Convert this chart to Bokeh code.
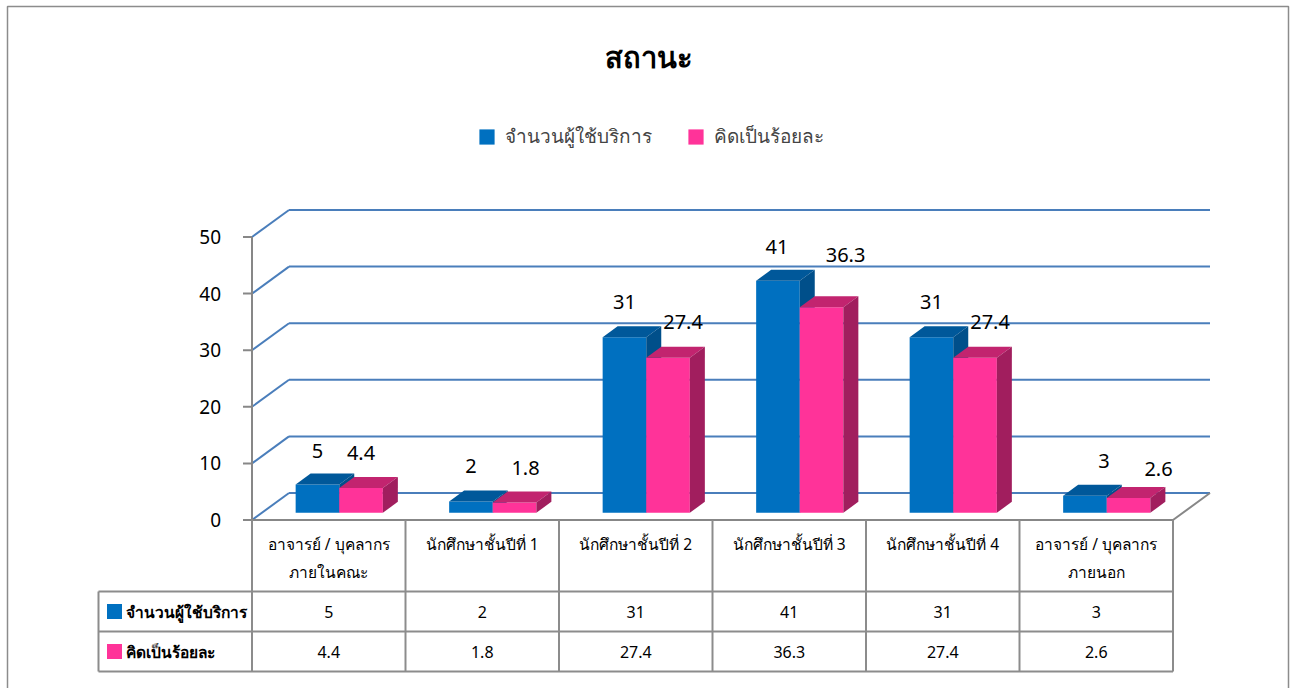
from bokeh.plotting import figure
from bokeh.models import Legend, LegendItem, ColumnDataSource, Range1d
from bokeh.core.properties import value
from bokeh.embed import file_html
from bokeh.resources import INLINE

# ---------------- data ----------------
title = "สถานะ"
categories = ["อาจารย์ / บุคลากร\nภายในคณะ", "นักศึกษาชั้นปีที่ 1", "นักศึกษาชั้นปีที่ 2",
              "นักศึกษาชั้นปีที่ 3", "นักศึกษาชั้นปีที่ 4", "อาจารย์ / บุคลากร\nภายนอก"]
series_names = ["จำนวนผู้ใช้บริการ", "คิดเป็นร้อยละ"]
users = [5, 2, 31, 41, 31, 3]
percent = [4.4, 1.8, 27.4, 36.3, 27.4, 2.6]
y_ticks = [0, 10, 20, 30, 40, 50]

# ---------------- style ----------------
FONT = "Noto Sans"
BLUE = ["#0070C0", "#00589A", "#004F8A"]     # front, top, side
PINK = ["#FF3399", "#C2246F", "#A11E5E"]
GRID = "#4A7EBB"
GRAY = "#878787"
TBL = "#8C8C8C"
# manual nudges of the data labels (px)
lab_dx = [[0, 0, 0, -1, 0, 19], [0, 11, 15, 24, 15, 30]]
lab_dy = [[34, 35, 35, 34, 35, 35], [35, 35, 36, 52, 36, 29]]

W, H = 1295, 688
X0, Y0 = 251.5, 519.5           # canvas px of the front origin
PX, PY = 153.5, 5.66             # px per category / per unit
WDX, WDY = 37, 27                # wall depth (px)
SX, SY = 10.5, 7.2               # bar front shift inside floor (px)
BW, BDX, BDY = 43.6, 15, 11      # bar width, bar depth (px)


def dx(px):
    return px / PX


def dy(px):
    return px / PY


def cx_(px):      # canvas px -> data x
    return (px - X0) / PX


def cy_(px):      # canvas px (from top) -> data y
    return (Y0 - px) / PY


x_start, x_end = cx_(0), cx_(W)
y_end, y_start = cy_(0), cy_(H)
n = len(categories)
ymax = y_ticks[-1]

p = figure(width=W, height=H, x_range=Range1d(x_start, x_end), y_range=Range1d(y_start, y_end),
           output_backend="svg", toolbar_location=None, min_border=0,
           x_axis_type=None, y_axis_type=None, outline_line_color=None,
           background_fill_color="white", border_fill_color="white")
p.grid.visible = False

# chart-area border
p.line(x=[cx_(7), cx_(7), cx_(1288), cx_(1288)], y=[cy_(700), cy_(6), cy_(6), cy_(700)],
       line_color=TBL, line_width=1.5)

# ---------------- walls / grid ----------------
p.multi_line(xs=[[0, dx(WDX)] for v in y_ticks], ys=[[v, v + dy(WDY)] for v in y_ticks],
             line_color=GRID, line_width=2)
p.multi_line(xs=[[dx(WDX), n + dx(WDX)] for v in y_ticks], ys=[[v + dy(WDY)] * 2 for v in y_ticks],
             line_color=GRID, line_width=2)
# axis, ticks, floor
p.line(x=[0, 0], y=[0, ymax], line_color=GRAY, line_width=2)
p.multi_line(xs=[[dx(-9), 0] for v in y_ticks], ys=[[v, v] for v in y_ticks], line_color=GRAY, line_width=2)
p.line(x=[0, n, n + dx(WDX)], y=[0, 0, dy(WDY)], line_color=GRAY, line_width=2)
p.text(x=[dx(-31)] * len(y_ticks), y=y_ticks, text=[str(v) for v in y_ticks],
       text_font=value(FONT), text_font_size="19px", text_align="right", text_baseline="middle",
       text_color="black")

# ---------------- 3D bars ----------------
renderers = []
for s, (vals, cols) in enumerate([(users, BLUE), (percent, PINK)]):
    lefts = [i + 0.5 + dx(SX - BW + s * BW) for i in range(n)]
    rights = [l + dx(BW) for l in lefts]
    b = dy(SY)
    tops = [v + b for v in vals]
    r = p.quad(left=lefts, right=rights, bottom=[b] * n, top=tops, fill_color=cols[0], line_color=None)
    renderers.append(r)
    p.patches(xs=[[l, r_, r_ + dx(BDX), l + dx(BDX)] for l, r_ in zip(lefts, rights)],
              ys=[[t, t, t + dy(BDY), t + dy(BDY)] for t in tops], fill_color=cols[1], line_color=None)
    p.patches(xs=[[r_, r_, r_ + dx(BDX), r_ + dx(BDX)] for r_ in rights],
              ys=[[b, t, t + dy(BDY), b + dy(BDY)] for t in tops], fill_color=cols[2], line_color=None)
    src = ColumnDataSource(dict(x=[(l + r_) / 2 for l, r_ in zip(lefts, rights)], y=tops,
                                t=[f"{v:g}" for v in vals], xo=lab_dx[s], yo=[-d for d in lab_dy[s]]))
    p.text(x="x", y="y", text="t", x_offset="xo", y_offset="yo", source=src,
           text_font=value(FONT), text_font_size="20px", text_align="center",
           text_baseline="middle", text_color="black")

# ---------------- data table ----------------
HDR, ROW = 71.5, 40
r1, r2, r3 = -dy(HDR), -dy(HDR + ROW), -dy(HDR + 2 * ROW)
p.multi_line(xs=[[i, i] for i in range(n + 1)], ys=[[0, r3]] * (n + 1), line_color=TBL, line_width=2)
p.multi_line(xs=[[-1, -1], [-1, n], [-1, n], [-1, n]], ys=[[r1, r3], [r1, r1], [r2, r2], [r3, r3]],
             line_color=TBL, line_width=2)
line1 = [c.split("\n")[0] for c in categories]
line2 = [c.split("\n")[1] if "\n" in c else "" for c in categories]
cx = [i + 0.5 for i in range(n)]
p.text(x=cx, y=[-dy(23.5)] * n, text=line1, text_font=value(FONT), text_font_size="15.5px",
       text_align="center", text_baseline="middle", text_color="black")
p.text(x=cx, y=[-dy(51.5)] * n, text=line2, text_font=value(FONT), text_font_size="15.5px",
       text_align="center", text_baseline="middle", text_color="black")
for k, (vals, cols) in enumerate([(users, BLUE), (percent, PINK)]):
    yc = -dy(HDR + ROW * k + ROW / 2)
    p.text(x=cx, y=[yc] * n, text=[f"{v:g}" for v in vals], text_font=value(FONT), text_font_size="16px",
           text_align="center", text_baseline="middle", text_color="black")
    p.rect(x=[-1 + dx(16)], y=[yc], width=15, height=15, width_units="screen", height_units="screen",
           fill_color=cols[0], line_color=None)
    p.text(x=[-1 + dx(27)], y=[yc], text=[series_names[k]], text_font=value(FONT), text_font_size="15.5px",
           text_align="left", text_baseline="middle", text_color="black", text_font_style="bold")

# ---------------- title & legend ----------------
p.text(x=[(x_start + x_end) / 2 + dx(0.5)], y=[cy_(56)], text=[title], text_font=value(FONT),
       text_font_size="29px", text_font_style="bold", text_align="center", text_baseline="middle",
       text_color="black")
legend = Legend(items=[LegendItem(label=series_names[k], renderers=[renderers[k]]) for k in range(2)],
                orientation="horizontal", location=(477, H - 151), padding=0, margin=0,
                glyph_width=19, glyph_height=19, label_standoff=9, spacing=34,
                label_text_font=FONT, label_text_font_size="19px", label_height=19,
                background_fill_alpha=0, border_line_color=None)
p.add_layout(legend)

open("out.html", "w").write(file_html(p, INLINE))
